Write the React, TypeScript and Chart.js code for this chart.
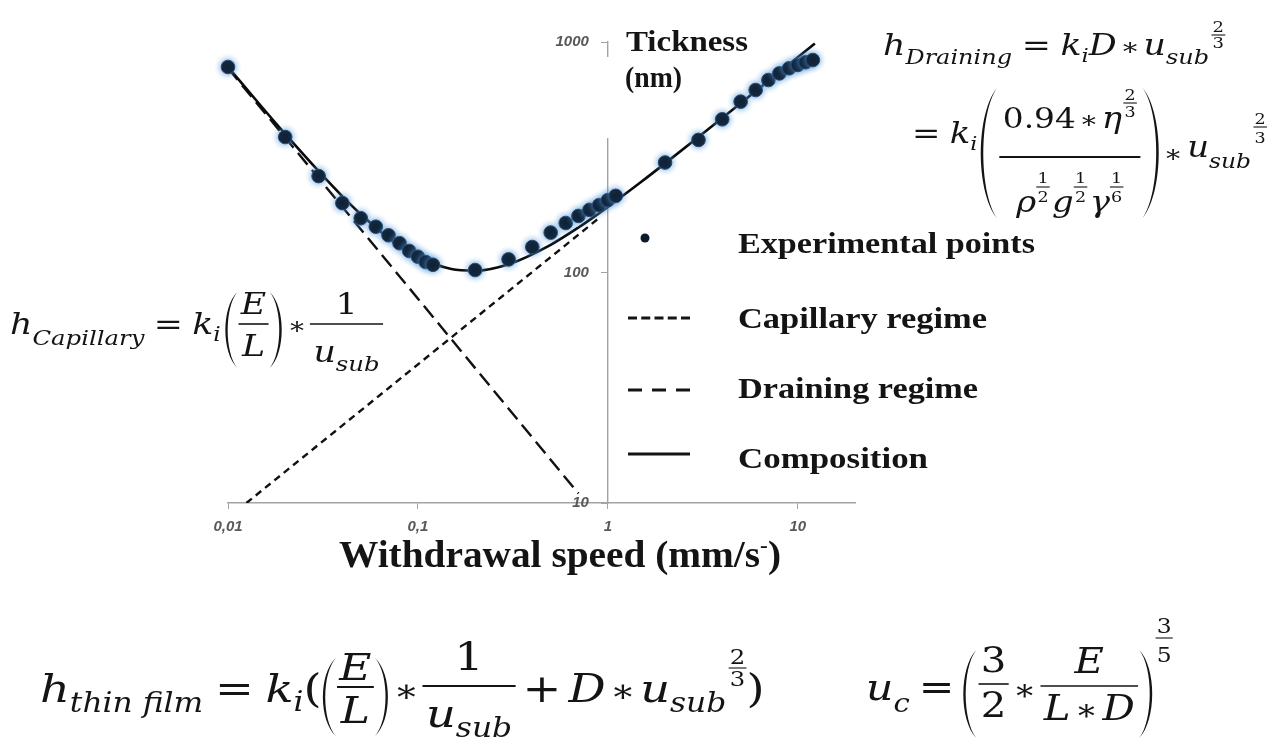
import React, { useEffect, useMemo, useRef } from 'react';
import { Chart, registerables } from 'chart.js';

Chart.register(...registerables);

// ---------- data ----------
const X_TICKS = [0.01, 0.1, 1, 10];
const X_TICK_LABELS = ['0,01', '0,1', '1', '10'];
const Y_TICKS = [10, 100, 1000];
const Y_TICK_LABELS = ['10', '100', '1000'];

const EXP_SPEED = [0.01, 0.02, 0.03, 0.04, 0.05, 0.06, 0.07, 0.08, 0.09, 0.1, 0.11, 0.12, 0.2, 0.3, 0.4, 0.5, 0.6, 0.7, 0.8, 0.9, 1.0, 1.1, 2, 3, 4, 5, 6, 7, 8, 9, 10, 11, 12];
const EXP_THICKNESS = [779, 387, 262, 200, 172, 158, 145, 134, 124, 117, 111, 108, 102.5, 114, 129, 149, 164, 176, 187, 196, 206, 215, 300, 376, 462, 551, 619, 684, 731, 769, 795, 817, 835];

const COMP_SPEED = [0.01, 0.015, 0.02, 0.03, 0.04, 0.05, 0.07, 0.1, 0.15, 0.2, 0.3, 0.5, 0.7, 1, 1.5, 2, 3, 5, 8, 12.3];
const COMP_THICKNESS = [779, 525, 399, 275, 214, 179, 141, 117, 103.5, 101.8, 108.6, 131.9, 156.8, 192.7, 247.5, 297.5, 387.4, 542.4, 741, 986];

const CAP_SPEED = [0.01, 0.7];
const CAP_THICKNESS = [770, 11];

const DRAIN_SPEED = [0.0125, 0.9];
const DRAIN_THICKNESS = [10, 172.5];

// ---------- styling constants ----------
const W = 1283;
const H = 740;
const SERIF = "'Liberation Serif', 'Times New Roman', Times, serif";
const MATH = "'DejaVu Serif', 'Liberation Serif', serif";
const INK = '#141414';
const AXIS = '#a3a3a3';
const TICK_COLOR = '#595959';

// ---------- tiny math layout helper ----------
let mctx: CanvasRenderingContext2D | null = null;
function measure(t: string, s: number, it: boolean): number {
  if (!mctx) mctx = document.createElement('canvas').getContext('2d');
  mctx!.font = `${it ? 'italic ' : ''}${s}px ${MATH}`;
  return mctx!.measureText(t).width;
}

const T = (t: string, s: number, dy = 0) => ({ k: 't', t, s, it: true, dy });
const U = (t: string, s: number, dy = 0) => ({ k: 't', t, s, it: false, dy });
const S = (w: number) => ({ k: 's', w });
const F = (num: any[], den: any[], nDy: number, dDy: number, bar: number, pad = 1, th = 1.1) => ({ k: 'f', num, den, nDy, dDy, bar, pad, th });
const P = (left: boolean, top: number, bot: number, w: number, th = 2.4) => ({ k: 'p', left, top, bot, w, th });
const EXP = (a: string, b: string, s: number, nDy: number, bar: number, dDy: number) => F([U(a, s)], [U(b, s)], nDy, dDy, bar);

function parenPath(x: number, top: number, bot: number, w: number, left: boolean, th: number) {
  const h = bot - top;
  const y1 = top + h * 0.2;
  const y2 = bot - h * 0.2;
  if (left) {
    const tip = x + w;
    const co = x - w / 3;
    const ci = x + (4 * th) / 3 - w / 3;
    return `M${tip},${top} C${co},${y1} ${co},${y2} ${tip},${bot} C${ci},${y2} ${ci},${y1} ${tip},${top} Z`;
  }
  const tip = x;
  const co = x + (4 * w) / 3;
  const ci = x + (4 * (w - th)) / 3;
  return `M${tip},${top} C${co},${y1} ${co},${y2} ${tip},${bot} C${ci},${y2} ${ci},${y1} ${tip},${top} Z`;
}

function layout(nodes: any[], x: number, y: number, out: any[] | null, sx: number): number {
  let cx = x;
  for (const n of nodes) {
    if (n.k === 's') {
      cx += n.w;
    } else if (n.k === 't') {
      const w = measure(n.t, n.s, n.it);
      if (out)
        out.push(
          <text key={out.length} x={cx} y={y + n.dy} fontSize={n.s} fontFamily={MATH} fontStyle={n.it ? 'italic' : 'normal'} fill={INK}>
            {n.t}
          </text>
        );
      cx += w;
    } else if (n.k === 'f') {
      const wn = layout(n.num, 0, 0, null, sx);
      const wd = layout(n.den, 0, 0, null, sx);
      const Wf = Math.max(wn, wd) + 2 * n.pad;
      if (out) {
        layout(n.num, cx + (Wf - wn) / 2, y + n.nDy, out, sx);
        layout(n.den, cx + (Wf - wd) / 2, y + n.dDy, out, sx);
        out.push(<line key={out.length} x1={cx} x2={cx + Wf} y1={y + n.bar} y2={y + n.bar} stroke={INK} strokeWidth={n.th} />);
      }
      cx += Wf;
    } else if (n.k === 'p') {
      const wl = n.w / sx;
      if (out) out.push(<path key={out.length} d={parenPath(cx, y + n.top, y + n.bot, wl, n.left, n.th / sx)} fill={INK} />);
      cx += wl;
    }
  }
  return cx - x;
}

function Formula({ x, y, sx, nodes }: { x: number; y: number; sx: number; nodes: any[] }) {
  const els: any[] = [];
  layout(nodes, x, y, els, sx);
  return <g transform={`translate(${x},0) scale(${sx},1) translate(${-x},0)`}>{els}</g>;
}

// ---------- formulas ----------
const FORM_DRAIN_1 = [
  T('h', 29), T('Draining', 20, 9), S(8), U('=', 29), S(8), T('k', 29), T('i', 19, 7), T('D', 29), S(3), U('∗', 24), S(3), T('u', 29), T('sub', 20, 9), S(2),
  EXP('2', '3', 15, -23, -20, -7),
];
const FORM_DRAIN_2 = [
  U('=', 29), S(8), T('k', 29), T('i', 19, 7), S(3),
  P(true, -55, 75, 16), S(2),
  F(
    [U('0.94', 28), S(3), U('∗', 24), S(3), T('η', 29), S(1), EXP('2', '3', 15, -28, -25, -11)],
    [T('ρ', 29), EXP('1', '2', 15, -29, -25, -10), S(2), T('g', 29), EXP('1', '2', 15, -29, -25, -10), S(2), T('γ', 29), EXP('1', '6', 15, -29, -25, -10)],
    -15, 69, 14, 3, 1.8
  ),
  S(2), P(false, -55, 75, 16), S(4),
  U('∗', 24, 19), S(4), T('u', 29, 14), T('sub', 20, 25), S(2),
  EXP('2', '3', 15, -19, -16, 0),
];
const FORM_CAP = [
  T('h', 30), T('Capillary', 21, 11), S(8), U('=', 30), S(8), T('k', 30), T('i', 20, 7), S(4),
  P(true, -42, 34, 12), S(1),
  F([T('E', 30)], [T('L', 30)], -20, 22, -10, 2, 1.6),
  S(1), P(false, -42, 34, 12), S(5),
  U('∗', 24), S(3),
  F([U('1', 30)], [T('u', 30), T('sub', 21, 9)], -20, 28, -10, 3, 1.6),
];
const FORM_THIN = [
  T('h', 40), T('thin film', 27, 10), S(10), U('=', 40), S(10), T('k', 40), T('i', 27, 9), U('(', 40), S(1),
  P(true, -44, 34, 13), S(1),
  F([T('E', 38)], [T('L', 38)], -22, 21, -15, 2, 1.8),
  S(1), P(false, -44, 34, 13), S(5),
  U('∗', 32), S(3),
  F([U('1', 40)], [T('u', 40), T('sub', 27, 10)], -32, 25, -16, 3, 1.8),
  S(6), U('+', 40), S(6), T('D', 40), S(4), U('∗', 32), S(4), T('u', 40), T('sub', 27, 10), S(2),
  EXP('2', '3', 21, -38, -34, -16),
  U(')', 40),
];
const FORM_UC = [
  T('u', 38), T('c', 26, 12), S(8), U('=', 38), S(8),
  P(true, -50, 38, 13), S(2),
  F([U('3', 36)], [U('2', 36)], -28, 17, -16, 2, 1.6),
  S(4), U('∗', 30), S(4),
  F([T('E', 36)], [T('L', 36), S(4), U('∗', 30), S(4), T('D', 36)], -27, 20, -14, 3, 1.6),
  S(1), P(false, -50, 38, 13), S(3),
  EXP('3', '5', 21, -67, -62, -38),
];

// ---------- chart plugins ----------
const glowPlugin = {
  id: 'pointGlow',
  beforeDatasetDraw(chart: any, args: any) {
    if (args.index === 0) {
      const c = chart.ctx;
      c.save();
      c.shadowColor = 'rgba(80,150,215,0.95)';
      c.shadowBlur = 6;
    }
  },
  afterDatasetDraw(chart: any, args: any) {
    if (args.index === 0) chart.ctx.restore();
  },
};

// y tick labels, placed left of the vertical axis that crosses at x = 1
const yLabelPlugin = {
  id: 'yLabels',
  afterDraw(chart: any) {
    const { ctx, scales } = chart;
    const xPix = scales.x.getPixelForValue(1);
    ctx.save();
    ctx.font = "italic bold 15px 'Liberation Sans', Arial, sans-serif";
    ctx.fillStyle = TICK_COLOR;
    ctx.textAlign = 'right';
    ctx.textBaseline = 'middle';
    Y_TICKS.forEach((v, i) => ctx.fillText(Y_TICK_LABELS[i], xPix - 19, scales.y.getPixelForValue(v)));
    ctx.restore();
  },
};

const toXY = (xs: number[], ys: number[]) => xs.map((x, i) => ({ x, y: ys[i] }));

export default function App() {
  const ref = useRef<HTMLCanvasElement>(null);

  useEffect(() => {
    const canvas = ref.current;
    if (!canvas) return;
    const tickFont = { family: "'Liberation Sans', Arial, sans-serif", size: 15, weight: 'bold' as const, style: 'italic' as const };
    const chart = new Chart(canvas, {
      type: 'scatter',
      data: {
        datasets: [
          {
            label: 'Experimental points',
            data: toXY(EXP_SPEED, EXP_THICKNESS),
            pointRadius: 6.8,
            pointBackgroundColor: '#0c1a2b',
            pointBorderColor: '#2a4b70',
            pointBorderWidth: 1,
            showLine: false,
            clip: false as any,
            order: 0,
          } as any,
          {
            label: 'Composition',
            type: 'line',
            data: toXY(COMP_SPEED, COMP_THICKNESS),
            borderColor: '#0a0a0a',
            borderWidth: 2.6,
            pointRadius: 0,
            cubicInterpolationMode: 'monotone',
            fill: false,
            order: 1,
          } as any,
          {
            label: 'Capillary regime',
            type: 'line',
            data: toXY(CAP_SPEED, CAP_THICKNESS),
            borderColor: '#111111',
            borderWidth: 2.4,
            borderDash: [15, 7],
            pointRadius: 0,
            fill: false,
            order: 2,
          } as any,
          {
            label: 'Draining regime',
            type: 'line',
            data: toXY(DRAIN_SPEED, DRAIN_THICKNESS),
            borderColor: '#111111',
            borderWidth: 2.4,
            borderDash: [7, 5],
            pointRadius: 0,
            fill: false,
            order: 2,
          } as any,
        ],
      },
      options: {
        responsive: false,
        animation: false,
        events: [],
        layout: { padding: { left: 228, right: W - 855, top: 42, bottom: 0 } },
        plugins: { legend: { display: false }, tooltip: { enabled: false } },
        scales: {
          x: {
            type: 'logarithmic',
            min: 0.01,
            max: 20,
            position: 'bottom',
            afterBuildTicks: (s: any) => {
              s.ticks = X_TICKS.map((v) => ({ value: v }));
            },
            afterFit: (s: any) => {
              s.height = H - 503;
            },
            ticks: {
              autoSkip: false,
              maxRotation: 0,
              padding: 9,
              color: TICK_COLOR,
              font: tickFont,
              callback: (_v: any, i: number) => X_TICK_LABELS[i],
            },
            grid: { display: true, drawOnChartArea: false, drawTicks: true, tickLength: 6, color: AXIS, lineWidth: 1 },
            border: { display: true, color: AXIS, width: 1.4 },
          },
          y: {
            type: 'logarithmic',
            min: 10,
            max: 1000,
            position: { x: 1 } as any,
            afterBuildTicks: (s: any) => {
              s.ticks = Y_TICKS.map((v) => ({ value: v }));
            },
            afterFit: (s: any) => {
              s.width = 0;
            },
            ticks: { display: false },
            grid: { display: true, drawOnChartArea: false, drawTicks: true, tickLength: 6, color: AXIS, lineWidth: 1 },
            border: { display: true, color: AXIS, width: 1.4 },
          },
        },
      } as any,
      plugins: [glowPlugin, yLabelPlugin],
    });
    return () => chart.destroy();
  }, []);

  const overlay = useMemo(
    () => (
      <svg width={W} height={H} style={{ position: 'absolute', left: 0, top: 0, pointerEvents: 'none' }}>
        {/* gap in the vertical axis under the title */}
        <rect x={602} y={57} width={12} height={81} fill="#ffffff" />
        {/* y-axis title */}
        <text x={626} y={51} fontFamily={SERIF} fontWeight="bold" fontSize={29} fill={INK} textLength={122} lengthAdjust="spacingAndGlyphs">
          Tickness
        </text>
        <text x={625} y={87} fontFamily={SERIF} fontWeight="bold" fontSize={29} fill={INK} textLength={57} lengthAdjust="spacingAndGlyphs">
          (nm)
        </text>
        {/* x-axis title */}
        <text x={339} y={567} fontFamily={SERIF} fontWeight="bold" fontSize={37} fill={INK} textLength={442} lengthAdjust="spacingAndGlyphs">
          Withdrawal speed (mm/s
          <tspan dy={-15} fontSize={22}>
            -
          </tspan>
          <tspan dy={15}>)</tspan>
        </text>

        {/* legend */}
        <circle cx={645} cy={238} r={4.5} fill="#0c1a2b" />
        <text x={738} y={253} fontFamily={SERIF} fontWeight="bold" fontSize={29} fill={INK} textLength={297} lengthAdjust="spacingAndGlyphs">
          Experimental points
        </text>
        <line x1={628} x2={690} y1={318} y2={318} stroke={INK} strokeWidth={3} strokeDasharray="9 4.25" />
        <text x={738} y={328} fontFamily={SERIF} fontWeight="bold" fontSize={29} fill={INK} textLength={249} lengthAdjust="spacingAndGlyphs">
          Capillary regime
        </text>
        <line x1={628} x2={690} y1={390} y2={390} stroke={INK} strokeWidth={3} strokeDasharray="14 10" />
        <text x={738} y={398} fontFamily={SERIF} fontWeight="bold" fontSize={29} fill={INK} textLength={240} lengthAdjust="spacingAndGlyphs">
          Draining regime
        </text>
        <line x1={628} x2={690} y1={454} y2={454} stroke={INK} strokeWidth={3} />
        <text x={738} y={468} fontFamily={SERIF} fontWeight="bold" fontSize={29} fill={INK} textLength={190} lengthAdjust="spacingAndGlyphs">
          Composition
        </text>

        {/* formulas */}
        <Formula x={883} y={55} sx={1.2} nodes={FORM_DRAIN_1} />
        <Formula x={912} y={143} sx={1.17} nodes={FORM_DRAIN_2} />
        <Formula x={10} y={334} sx={1.16} nodes={FORM_CAP} />
        <Formula x={40} y={702} sx={1.16} nodes={FORM_THIN} />
        <Formula x={866} y={700} sx={1.12} nodes={FORM_UC} />
      </svg>
    ),
    []
  );

  return (
    <div style={{ position: 'absolute', left: 0, top: 0, width: W, height: H, overflow: 'hidden', background: '#ffffff' }}>
      <canvas ref={ref} width={W} height={H} style={{ position: 'absolute', left: 0, top: 0 }} />
      {overlay}
    </div>
  );
}
